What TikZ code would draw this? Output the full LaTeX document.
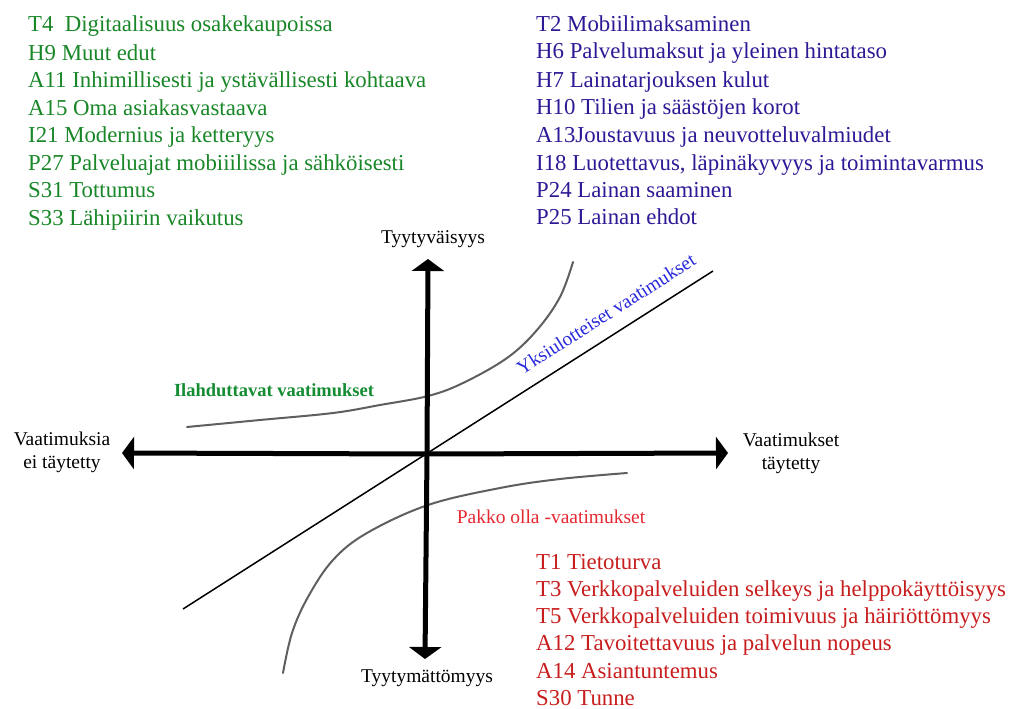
\documentclass[tikz,border=0pt]{standalone}
\usepackage{fontspec}
\setmainfont{Liberation Serif}
\usetikzlibrary{arrows.meta}
\definecolor{lgreen}{RGB}{25,135,40}
\definecolor{lblue}{RGB}{45,25,150}
\definecolor{lred}{RGB}{200,30,30}
\definecolor{pred}{RGB}{230,40,50}
\definecolor{yblue}{RGB}{40,40,220}
\definecolor{igreen}{RGB}{20,140,50}
\definecolor{cgray}{RGB}{95,95,95}
\tikzset{
  listtxt/.style={anchor=base west, inner sep=0pt, font=\fontsize{22.8}{27.5}\selectfont},
  glist/.style={listtxt, text=lgreen},
  blist/.style={listtxt, text=lblue},
  rlist/.style={listtxt, text=lred},
  axlabel/.style={inner sep=0pt, align=center, font=\fontsize{19.5}{23}\selectfont, text=black},
  axisline/.style={line width=5pt, -{Triangle[width=32pt,length=12pt]}},
  curveline/.style={cgray, line width=2pt, line cap=round},
}
\begin{document}
\begin{tikzpicture}[x=1pt,y=-1pt]
\useasboundingbox[fill=white] (0,0) rectangle (1009,709);

% green list
\node[glist] (g1) at (28,32) {T4\ \ Digitaalisuus osakekaupoissa};
\node[glist] (g2) at (28,60) {H9 Muut edut};
\node[glist] (g3) at (28,87) {A11 Inhimillisesti ja ystävällisesti kohtaava};
\node[glist] (g4) at (28,115) {A15 Oma asiakasvastaava};
\node[glist] (g5) at (28,142) {I21 Modernius ja ketteryys};
\node[glist] (g6) at (28,170) {P27 Palveluajat mobiiilissa ja sähköisesti};
\node[glist] (g7) at (28,197) {S31 Tottumus};
\node[glist] (g8) at (28,225) {S33 Lähipiirin vaikutus};

% blue list
\node[blist] (b1) at (536,32) {T2 Mobiilimaksaminen};
\node[blist] (b2) at (536,59) {H6 Palvelumaksut ja yleinen hintataso};
\node[blist] (b3) at (536,87) {H7 Lainatarjouksen kulut};
\node[blist] (b4) at (536,114) {H10 Tilien ja säästöjen korot};
\node[blist] (b5) at (536,142) {A13Joustavuus ja neuvotteluvalmiudet};
\node[blist] (b6) at (536,170) {I18 Luotettavus, läpinäkyvyys ja toimintavarmus};
\node[blist] (b7) at (536,197) {P24 Lainan saaminen};
\node[blist] (b8) at (536,224) {P25 Lainan ehdot};

% red list
\node[rlist] (r1) at (536,569) {T1 Tietoturva};
\node[rlist] (r2) at (536,596.3) {T3 Verkkopalveluiden selkeys ja helppokäyttöisyys};
\node[rlist] (r3) at (536,623.6) {T5 Verkkopalveluiden toimivuus ja häiriöttömyys};
\node[rlist] (r4) at (536,650.9) {A12 Tavoitettavuus ja palvelun nopeus};
\node[rlist] (r5) at (536,678.2) {A14 Asiantuntemus};
\node[rlist] (r6) at (536,705.5) {S30 Tunne};

% axes
\coordinate (O) at (427,454);
\coordinate (L) at (122,453);
\coordinate (R) at (728,453);
\coordinate (T) at (428,259);
\coordinate (B) at (425,659);

% curves
\draw[curveline] plot[smooth, tension=0.6] coordinates {(187,427) (260,420) (333,413) (380,405) (428,396) (463,383) (507,358) (537,330) (560,297) (573,262)};
\draw[curveline] plot[smooth, tension=0.6] coordinates {(627,473) (560,479) (500,488) (428,505) (367,533) (333,560) (308,597) (292,633) (283,673)};

% diagonal
\coordinate (D1) at (183,609);
\coordinate (D2) at (713,271);
\draw[black, line width=1.5pt] (D1) -- (D2);

\draw[axisline] (O) -- (L);
\draw[axisline] (O) -- (R);
\draw[axisline] (O) -- (T);
\draw[axisline] (O) -- (B);

% axis labels
\node[axlabel] (ty) at (433,239) {Tyytyväisyys};
\node[axlabel] (tm) at (427,678) {Tyytymättömyys};
\node[axlabel] (vl) at (62,452) {Vaatimuksia\\ei täytetty};
\node[axlabel] (vr) at (791,453) {Vaatimukset\\täytetty};

% region labels
\node[inner sep=0pt, text=igreen, font=\bfseries\fontsize{18.5}{22}\selectfont] (il) at (274,390) {Ilahduttavat vaatimukset};
\node[inner sep=0pt, text=yblue, font=\fontsize{19.5}{23}\selectfont, rotate=32.5] (yk) at (606,314) {Yksiulotteiset vaatimukset};
\node[inner sep=0pt, text=pred, font=\fontsize{19.5}{23}\selectfont] (pk) at (551,517) {Pakko olla -vaatimukset};
\end{tikzpicture}
\end{document}
